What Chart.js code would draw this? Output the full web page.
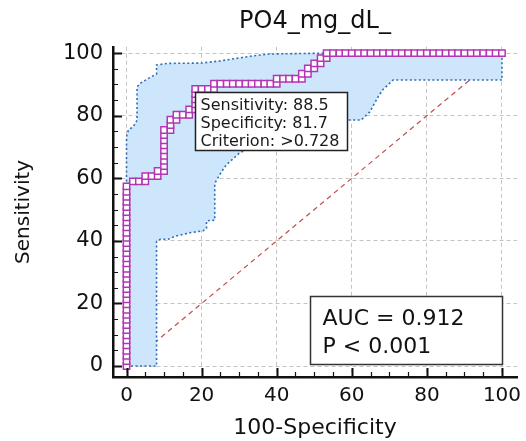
<!DOCTYPE html>
<html>
<head>
<meta charset="utf-8">
<script src="https://cdn.jsdelivr.net/npm/chart.js@4.4.0/dist/chart.umd.min.js"></script>
<style>
html, body { margin: 0; padding: 0; background: #fff; }
</style>
</head>
<body>
<canvas id="roc" width="526" height="441"></canvas>
<script>
Chart.defaults.font.family = '"DejaVu Sans", Verdana, sans-serif'
Chart.defaults.color = '#111'

// empirical ROC points (100-Specificity, Sensitivity)
var rocX = [0,0,0,0,0,0,0,0,0,0,0,0,0,0,0,0,0,0,0,0,0,0,0,0,0,0,0,0,0,0,0,0,0,0,0,0,
  1.7,3.3,5.0,5.0,6.7,8.3,8.3,10.0,10.0,10.0,10.0,10.0,10.0,10.0,10.0,10.0,
  11.7,11.7,11.7,13.3,13.3,15.0,16.7,16.7,18.3,18.3,18.3,18.3,18.3,20.0,21.7,23.3,23.3,
  25.0,26.7,28.3,30.0,31.7,33.3,35.0,36.7,38.3,40.0,
  40.0,41.7,43.3,45.0,46.7,46.7,48.3,48.3,50.0,50.0,51.7,51.7,53.3,53.3,
  55.0,56.7,58.3,60.0,61.7,63.3,65.0,66.7,68.3,70.0,71.7,73.3,75.0,76.7,78.3,80.0,
  81.7,83.3,85.0,86.7,88.3,90.0,91.7,93.3,95.0,96.7,98.3,100]
var rocY = [0,1.6,3.3,4.9,6.6,8.2,9.8,11.5,13.1,14.8,16.4,18.0,19.7,21.3,23.0,24.6,26.2,27.9,
  29.5,31.1,32.8,34.4,36.1,37.7,39.3,41.0,42.6,44.3,45.9,47.5,49.2,50.8,52.5,54.1,55.7,57.4,
  59.0,59.0,59.0,60.7,60.7,60.7,62.3,62.3,63.9,65.6,67.2,68.9,70.5,72.1,73.8,75.4,
  75.4,77.0,78.7,78.7,80.3,80.3,80.3,82.0,82.0,83.6,85.2,86.9,88.5,88.5,88.5,88.5,90.2,
  90.2,90.2,90.2,90.2,90.2,90.2,90.2,90.2,90.2,90.2,
  91.8,91.8,91.8,91.8,91.8,93.4,93.4,95.1,95.1,96.7,96.7,98.4,98.4,100,
  100,100,100,100,100,100,100,100,100,100,100,100,100,100,100,100,
  100,100,100,100,100,100,100,100,100,100,100,100]

// 95% confidence bounds
var upperX = [0,0,0.5,1.8,2.8,2.8,3.6,5.8,8.0,8.0,11.0,20.0,25.0,33.0,38.0,55.0,100]
var upperY = [0,73.3,75.4,76.5,78.5,89.2,90.3,91.9,93.3,96.2,96.7,96.8,97.5,99.0,99.7,100,100]
var lowerX = [0,8.0,8.0,9.0,11.1,13.0,16.9,20.4,21.3,21.3,23.5,23.5,25.0,26.5,30.0,35.0,45.0,55.0,59.4,62.5,64.8,67.0,68.2,71.0,100,100]
var lowerY = [0,0,39.8,40.5,40.5,41.5,42.6,43.2,44.0,46.4,46.6,58.4,61.5,64.2,68.0,71.0,75.0,78.0,78.6,78.6,81.2,86.0,88.2,91.4,91.4,100]

var tickValues = [0,20,40,60,80,100]

var cutoffPoint = [18.3, 88.5]
var cutoffLines = ['Sensitivity: 88.5', 'Specificity: 81.7', 'Criterion: >0.728']
var aucLines = ['AUC = 0.912', 'P < 0.001']

function pts(xs, ys) {
  return xs.map(function (v, i) { return {x: v, y: ys[i]} })
}

// small inward ticks on both axes, every 5 units
var axisTicks = {
  id: 'axisTicks',
  afterDatasetsDraw: function (chart) {
    var ctx = chart.ctx, a = chart.chartArea, xs = chart.scales.x, ys = chart.scales.y
    ctx.save()
    ctx.strokeStyle = '#111'
    for (var v = 0; v <= 100; v += 5) {
      var major = v % 20 === 0
      var len = major ? 9 : 5
      ctx.lineWidth = major ? 2 : 1.2
      var px = Math.round(xs.getPixelForValue(v)) + 0.5
      var py = Math.round(ys.getPixelForValue(v)) + 0.5
      ctx.beginPath()
      ctx.moveTo(px, a.bottom); ctx.lineTo(px, a.bottom - len)
      ctx.moveTo(a.left, py); ctx.lineTo(a.left + len, py)
      ctx.stroke()
    }
    ctx.restore()
  }
}

var infoBoxes = {
  id: 'infoBoxes',
  afterDatasetsDraw: function (chart) {
    var ctx = chart.ctx, xs = chart.scales.x, ys = chart.scales.y
    ctx.save()
    // criterion box hangs below-right of the cut-off point
    var bx = Math.round(xs.getPixelForValue(cutoffPoint[0])) + 0.5
    var by = Math.round(ys.getPixelForValue(cutoffPoint[1])) + 3.5
    ctx.fillStyle = '#fff'
    ctx.fillRect(bx, by, 152, 58)
    ctx.lineWidth = 1.5
    ctx.strokeStyle = '#222'
    ctx.strokeRect(bx, by, 152, 58)
    ctx.fillStyle = '#1a1a1a'
    ctx.font = '16px "DejaVu Sans"'
    ctx.textBaseline = 'alphabetic'
    cutoffLines.forEach(function (t, i) { ctx.fillText(t, bx + 5, by + 17 + i * 18) })

    // AUC box in the lower right corner
    var rx = Math.round(xs.getPixelForValue(100)) + 0.5
    var ry = Math.round(ys.getPixelForValue(0)) - 1.5
    ctx.fillStyle = '#fff'
    ctx.fillRect(rx - 192, ry - 68, 192, 68)
    ctx.lineWidth = 1.5
    ctx.strokeStyle = '#333'
    ctx.strokeRect(rx - 192, ry - 68, 192, 68)
    ctx.fillStyle = '#111'
    ctx.font = '22px "DejaVu Sans"'
    aucLines.forEach(function (t, i) { ctx.fillText(t, rx - 180, ry - 40 + i * 28) })
    ctx.restore()
  }
}

var gridOpts = { color: '#c4c4c4', lineWidth: 1, drawTicks: false }
var borderOpts = { color: '#111', width: 2.5, dash: [4, 3] }

var chart = new Chart(document.getElementById('roc'), {
  type: 'scatter',
  data: {
    datasets: [
      {
        label: 'ROC',
        data: pts(rocX, rocY),
        showLine: true,
        borderColor: '#1d3c96',
        borderWidth: 1.5,
        pointStyle: 'rect',
        pointRadius: 4.5,
        pointBorderWidth: 1.5,
        pointBorderColor: '#b435b4',
        pointBackgroundColor: '#fff',
        order: 0
      },
      {
        label: 'reference',
        data: pts([0, 100], [0, 100]),
        showLine: true,
        borderColor: '#c0504d',
        borderWidth: 1.2,
        borderDash: [5, 4],
        pointRadius: 0,
        order: 3
      },
      {
        label: 'upper',
        data: pts(upperX, upperY),
        showLine: true,
        borderColor: '#2e6cb8',
        borderWidth: 1.6,
        borderDash: [2, 2.5],
        backgroundColor: 'rgb(205,230,251)',
        fill: '+1',
        pointRadius: 0,
        order: 2
      },
      {
        label: 'lower',
        data: pts(lowerX, lowerY),
        showLine: true,
        borderColor: '#2e6cb8',
        borderWidth: 1.6,
        borderDash: [2, 2.5],
        fill: false,
        pointRadius: 0,
        order: 1
      }
    ]
  },
  options: {
    responsive: false,
    animation: false,
    layout: { padding: { left: 0, right: 9, top: 0, bottom: 0 } },
    plugins: {
      legend: { display: false },
      tooltip: { enabled: false },
      title: {
        display: true,
        text: 'PO4_mg_dL_',
        fullSize: false,
        color: '#111',
        font: { size: 24, weight: 'normal' },
        padding: { top: 7, bottom: 11 }
      }
    },
    scales: {
      x: {
        type: 'linear',
        min: -3.6,
        max: 104,
        afterBuildTicks: function (s) { s.ticks = tickValues.map(function (v) { return {value: v} }) },
        afterFit: function (s) { s.height = 64; s.paddingRight = 0 },
        grid: gridOpts,
        border: borderOpts,
        ticks: { padding: 7, maxRotation: 0, autoSkip: false, font: { size: 20 }, color: '#111' },
        title: { display: true, text: '100-Specificity', font: { size: 22 }, color: '#111', padding: { top: 0, bottom: 0 } }
      },
      y: {
        type: 'linear',
        min: -3.5,
        max: 102,
        afterBuildTicks: function (s) { s.ticks = tickValues.map(function (v) { return {value: v} }) },
        afterFit: function (s) { s.width = 113 },
        grid: gridOpts,
        border: borderOpts,
        ticks: { padding: 10, autoSkip: false, font: { size: 21 }, color: '#111' },
        title: { display: true, text: 'Sensitivity', font: { size: 20 }, color: '#111', padding: { top: 12, bottom: 0 } }
      }
    }
  },
  plugins: [axisTicks, infoBoxes]
})
</script>
</body>
</html>
